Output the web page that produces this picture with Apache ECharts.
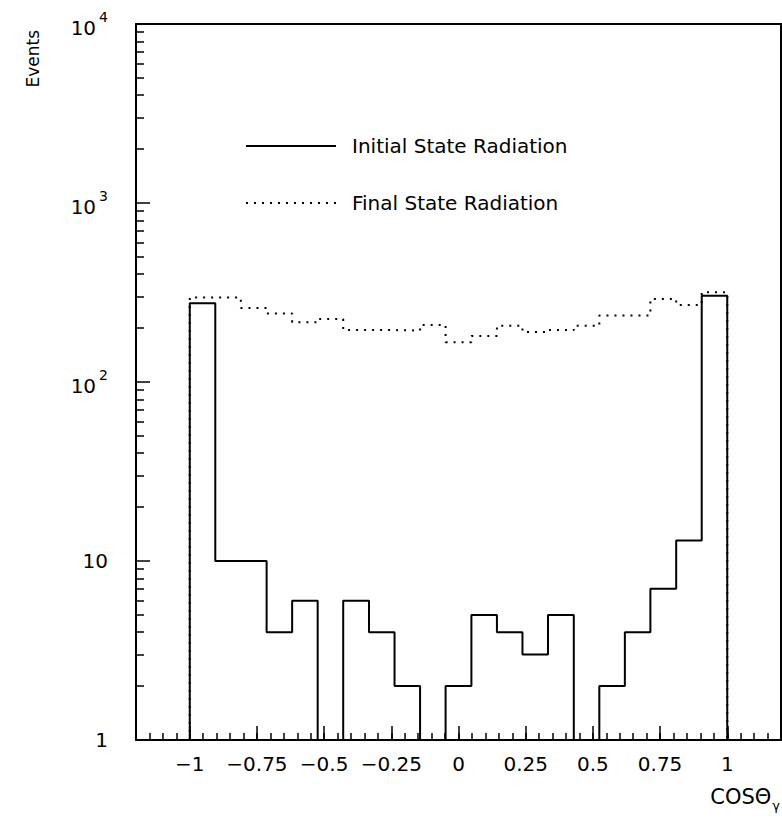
<!DOCTYPE html>
<html>
<head>
<meta charset="utf-8">
<title>cos theta gamma</title>
<script src="https://cdn.jsdelivr.net/npm/echarts@6.0.0/dist/echarts.min.js"></script>
<style>
  html, body { margin: 0; padding: 0; background: #fff; }
  #main { width: 782px; height: 818px; }
</style>
</head>
<body>
<div id="main"></div>
<script>
// bin edges (21 bins from -1 to 1)
const binEdges = [-1, -0.905, -0.810, -0.714, -0.619, -0.524, -0.429, -0.333, -0.238, -0.143, -0.048,
  0.048, 0.143, 0.238, 0.333, 0.429, 0.524, 0.619, 0.714, 0.810, 0.905, 1];
// events per bin
const isrCounts = [275, 10, 10, 4, 6, 0, 6, 4, 2, 0, 2, 5, 4, 3, 5, 0, 2, 4, 7, 13, 303];
const fsrCounts = [297, 297, 259, 241, 216, 225, 195, 195, 194, 208, 167, 181, 206, 190, 195, 206, 235, 235, 291, 269, 317];
const xMajorTicks = [-1, -0.75, -0.5, -0.25, 0, 0.25, 0.5, 0.75, 1];
const yMajorTicks = [1, 10, 100, 1000, 10000];
const yMinorTicks = [2, 3, 4, 5, 6, 7, 8, 9, 20, 30, 40, 50, 60, 70, 80, 90,
  200, 300, 400, 500, 600, 700, 800, 900, 2000, 3000, 4000, 5000, 6000, 7000, 8000, 9000];

const FONT = 'DejaVu Sans';
const floorVal = 1;

// histogram outline as step points
function outline(counts) {
  let pts = [[binEdges[0], floorVal]];
  for (let i = 0; i < counts.length; i++) {
    let v = Math.max(counts[i], floorVal);
    pts.push([binEdges[i], v]);
    pts.push([binEdges[i + 1], v]);
  }
  pts.push([binEdges[binEdges.length - 1], floorVal]);
  return pts;
}

function fmtX(v) {
  let r = Math.round(v * 100) / 100;
  if (r === 0) return '0';
  return (r < 0 ? '\u2212' : '') + String(Math.abs(r));
}

let myChart = echarts.init(document.getElementById('main'), null, { renderer: 'svg' });

let gridRect = { left: 136, right: 1, top: 24, bottom: 78 };
let lineBlack = { color: '#000', width: 2 };

let option = {
  animation: false,
  backgroundColor: '#fff',
  grid: [
    Object.assign({}, gridRect),
    Object.assign({}, gridRect)
  ],
  legend: {
    orient: 'vertical',
    left: 245,
    top: 136,
    padding: 0,
    itemWidth: 90,
    itemHeight: 14,
    itemGap: 37,
    itemStyle: { opacity: 0 },
    textStyle: { fontFamily: FONT, fontSize: 20, color: '#000', padding: [0, 0, 0, 11] },
    data: ['Initial State Radiation', 'Final State Radiation']
  },
  xAxis: [
    {
      type: 'value', gridIndex: 0, position: 'bottom',
      min: -1.2, max: 1.2, interval: 0.05,
      axisLine: { show: true, onZero: false, lineStyle: lineBlack },
      axisTick: { show: true, inside: true, length: 7, lineStyle: { color: '#000', width: 1.5 } },
      axisLabel: {
        customValues: xMajorTicks,
        formatter: fmtX,
        margin: 14,
        color: '#000', fontFamily: FONT, fontSize: 20
      },
      splitLine: { show: false }
    },
    {
      type: 'value', gridIndex: 0, position: 'top',
      min: -1.2, max: 1.2,
      axisLine: { show: true, onZero: false, lineStyle: lineBlack },
      axisTick: { show: false }, axisLabel: { show: false }, splitLine: { show: false }
    },
    {
      type: 'value', gridIndex: 1, position: 'bottom',
      min: -1.2, max: 1.2,
      axisLine: { show: false, onZero: false },
      axisTick: { show: true, inside: true, length: 14, customValues: xMajorTicks, lineStyle: { color: '#000', width: 1.5 } },
      axisLabel: { show: false }, splitLine: { show: false }
    }
  ],
  yAxis: [
    {
      type: 'log', logBase: 10, gridIndex: 0, position: 'left',
      min: 1, max: 10000,
      axisLine: { show: true, onZero: false, lineStyle: lineBlack },
      axisTick: { show: true, inside: true, length: 14, customValues: yMajorTicks, lineStyle: { color: '#000', width: 1.5 } },
      axisLabel: {
        customValues: yMajorTicks,
        margin: 28,
        color: '#000', fontFamily: FONT, fontSize: 20,
        formatter: function (v) {
          let e = Math.round(Math.log10(v));
          if (e === 0) return '1';
          if (e === 1) return '10';
          return '{b|10}{s|' + e + '}';
        },
        rich: {
          b: { fontFamily: FONT, fontSize: 20, color: '#000', lineHeight: 28, verticalAlign: 'bottom' },
          s: { fontFamily: FONT, fontSize: 14, color: '#000', lineHeight: 28, verticalAlign: 'top', padding: [0, 0, 0, 3] }
        }
      },
      splitLine: { show: false }
    },
    {
      type: 'log', logBase: 10, gridIndex: 0, position: 'right',
      min: 1, max: 10000,
      axisLine: { show: true, onZero: false, lineStyle: lineBlack },
      axisTick: { show: false }, axisLabel: { show: false }, splitLine: { show: false }
    },
    {
      type: 'log', logBase: 10, gridIndex: 1, position: 'left',
      min: 1, max: 10000,
      axisLine: { show: false, onZero: false },
      axisTick: { show: true, inside: true, length: 8, customValues: yMinorTicks, lineStyle: { color: '#000', width: 1.5 } },
      axisLabel: { show: false }, splitLine: { show: false }
    }
  ],
  graphic: [
    {
      type: 'text', left: 24, top: 30, rotation: Math.PI / 2,
      style: { text: 'Events', fontFamily: FONT, fontSize: 17, fill: '#000' }
    },
    {
      type: 'text', right: 2, top: 786,
      style: {
        text: '{a|COS\u0398}{g|\u03b3}',
        rich: {
          a: { fontFamily: FONT, fontSize: 21, fill: '#000', lineHeight: 26, verticalAlign: 'top' },
          g: { fontFamily: FONT, fontSize: 13, fill: '#000', lineHeight: 26, verticalAlign: 'bottom', padding: [0, 0, 0, 1] }
        }
      }
    }
  ],
  series: [
    {
      name: 'Initial State Radiation',
      type: 'line',
      xAxisIndex: 0, yAxisIndex: 0,
      symbol: 'none',
      color: '#000',
      lineStyle: { color: '#000', width: 2, type: 'solid' },
      data: outline(isrCounts)
    },
    {
      name: 'Final State Radiation',
      type: 'line',
      xAxisIndex: 0, yAxisIndex: 0,
      symbol: 'none',
      color: '#000',
      lineStyle: { color: '#000', width: 2, type: [2, 6] },
      data: outline(fsrCounts)
    }
  ]
};

myChart.setOption(option);
</script>
</body>
</html>
